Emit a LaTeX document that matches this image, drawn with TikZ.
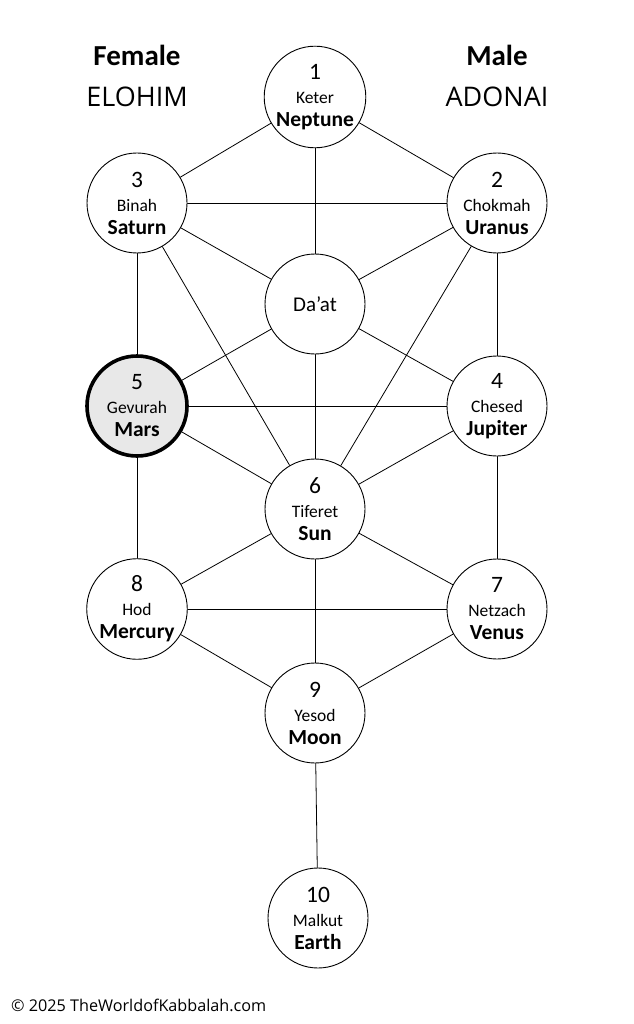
\documentclass[tikz,border=0pt]{standalone}
\usepackage{fontspec}
\setmainfont{Carlito}
\newfontfamily\headfont{Open Sans}
\newcommand{\sef}[3]{{\fontsize{23.5}{25}\selectfont #1}\\[-1pt]{\fontsize{17.5}{24}\selectfont #2}\\[-2pt]{\bfseries #3}}
\tikzset{
  sefira/.style={circle,draw,line width=0.9pt,fill=white,minimum size=100pt,inner sep=0pt,align=center,
    font=\fontsize{21.5}{25}\selectfont},
  path/.style={line width=0.8pt}
}
\begin{document}
\begin{tikzpicture}[line cap=round,line join=round,x=1pt,y=-1pt]
				\useasboundingbox (0,0) rectangle (633,1024);
				% sefirot
				\node[sefira] (keter) at (315,97) {\sef{1}{Keter}{Neptune}};
				\node[sefira] (binah) at (137,203) {\sef{3}{Binah}{Saturn}};
				\node[sefira] (chokmah) at (497,203) {\sef{2}{Chokmah}{Uranus}};
				\node[sefira,font=\fontsize{21}{24}\selectfont] (daat) at (315,304) {Da’at};
				\node[sefira,line width=3.6pt,fill=black!9] (gevurah) at (137,406) {\sef{5}{Gevurah}{Mars}};
				\node[sefira] (chesed) at (497,406) {\sef{4}{Chesed}{Jupiter}};
				\node[sefira] (tiferet) at (315,509) {\sef{6}{Tiferet}{Sun}};
				\node[sefira] (hod) at (137,609) {\sef{8}{Hod}{Mercury}};
				\node[sefira] (netzach) at (497,609) {\sef{7}{Netzach}{Venus}};
				\node[sefira] (yesod) at (315,713) {\sef{9}{Yesod}{Moon}};
				\node[sefira] (malkut) at (318,918) {\sef{10}{Malkut}{Earth}};
				% paths
				\draw[path] (keter) -- (binah);
				\draw[path] (keter) -- (chokmah);
				\draw[path] (keter) -- (daat);
				\draw[path] (binah) -- (chokmah);
				\draw[path] (binah) -- (daat);
				\draw[path] (binah) -- (gevurah);
				\draw[path] (binah) -- (tiferet);
				\draw[path] (chokmah) -- (daat);
				\draw[path] (chokmah) -- (chesed);
				\draw[path] (chokmah) -- (tiferet);
				\draw[path] (daat) -- (gevurah);
				\draw[path] (daat) -- (chesed);
				\draw[path] (daat) -- (tiferet);
				\draw[path] (gevurah) -- (chesed);
				\draw[path] (gevurah) -- (tiferet);
				\draw[path] (gevurah) -- (hod);
				\draw[path] (chesed) -- (tiferet);
				\draw[path] (chesed) -- (netzach);
				\draw[path] (tiferet) -- (hod);
				\draw[path] (tiferet) -- (netzach);
				\draw[path] (tiferet) -- (yesod);
				\draw[path] (hod) -- (netzach);
				\draw[path] (hod) -- (yesod);
				\draw[path] (netzach) -- (yesod);
				\draw[path] (yesod) -- (malkut);
				% headings
				\node (female) at (137,55) {\fontsize{29}{32}\selectfont\bfseries Female};
				\node (elohim) at (137,97) {\headfont\fontsize{27}{30}\selectfont ELOHIM};
				\node (male) at (497,55) {\fontsize{29}{32}\selectfont\bfseries Male};
				\node (adonai) at (497,97) {\headfont\fontsize{27}{30}\selectfont ADONAI};
				\node[anchor=west,inner sep=0pt] (copy) at (11,1005) {\headfont\fontsize{16.2}{19}\selectfont © 2025 TheWorldofKabbalah.com};
			\end{tikzpicture}
\end{document}
